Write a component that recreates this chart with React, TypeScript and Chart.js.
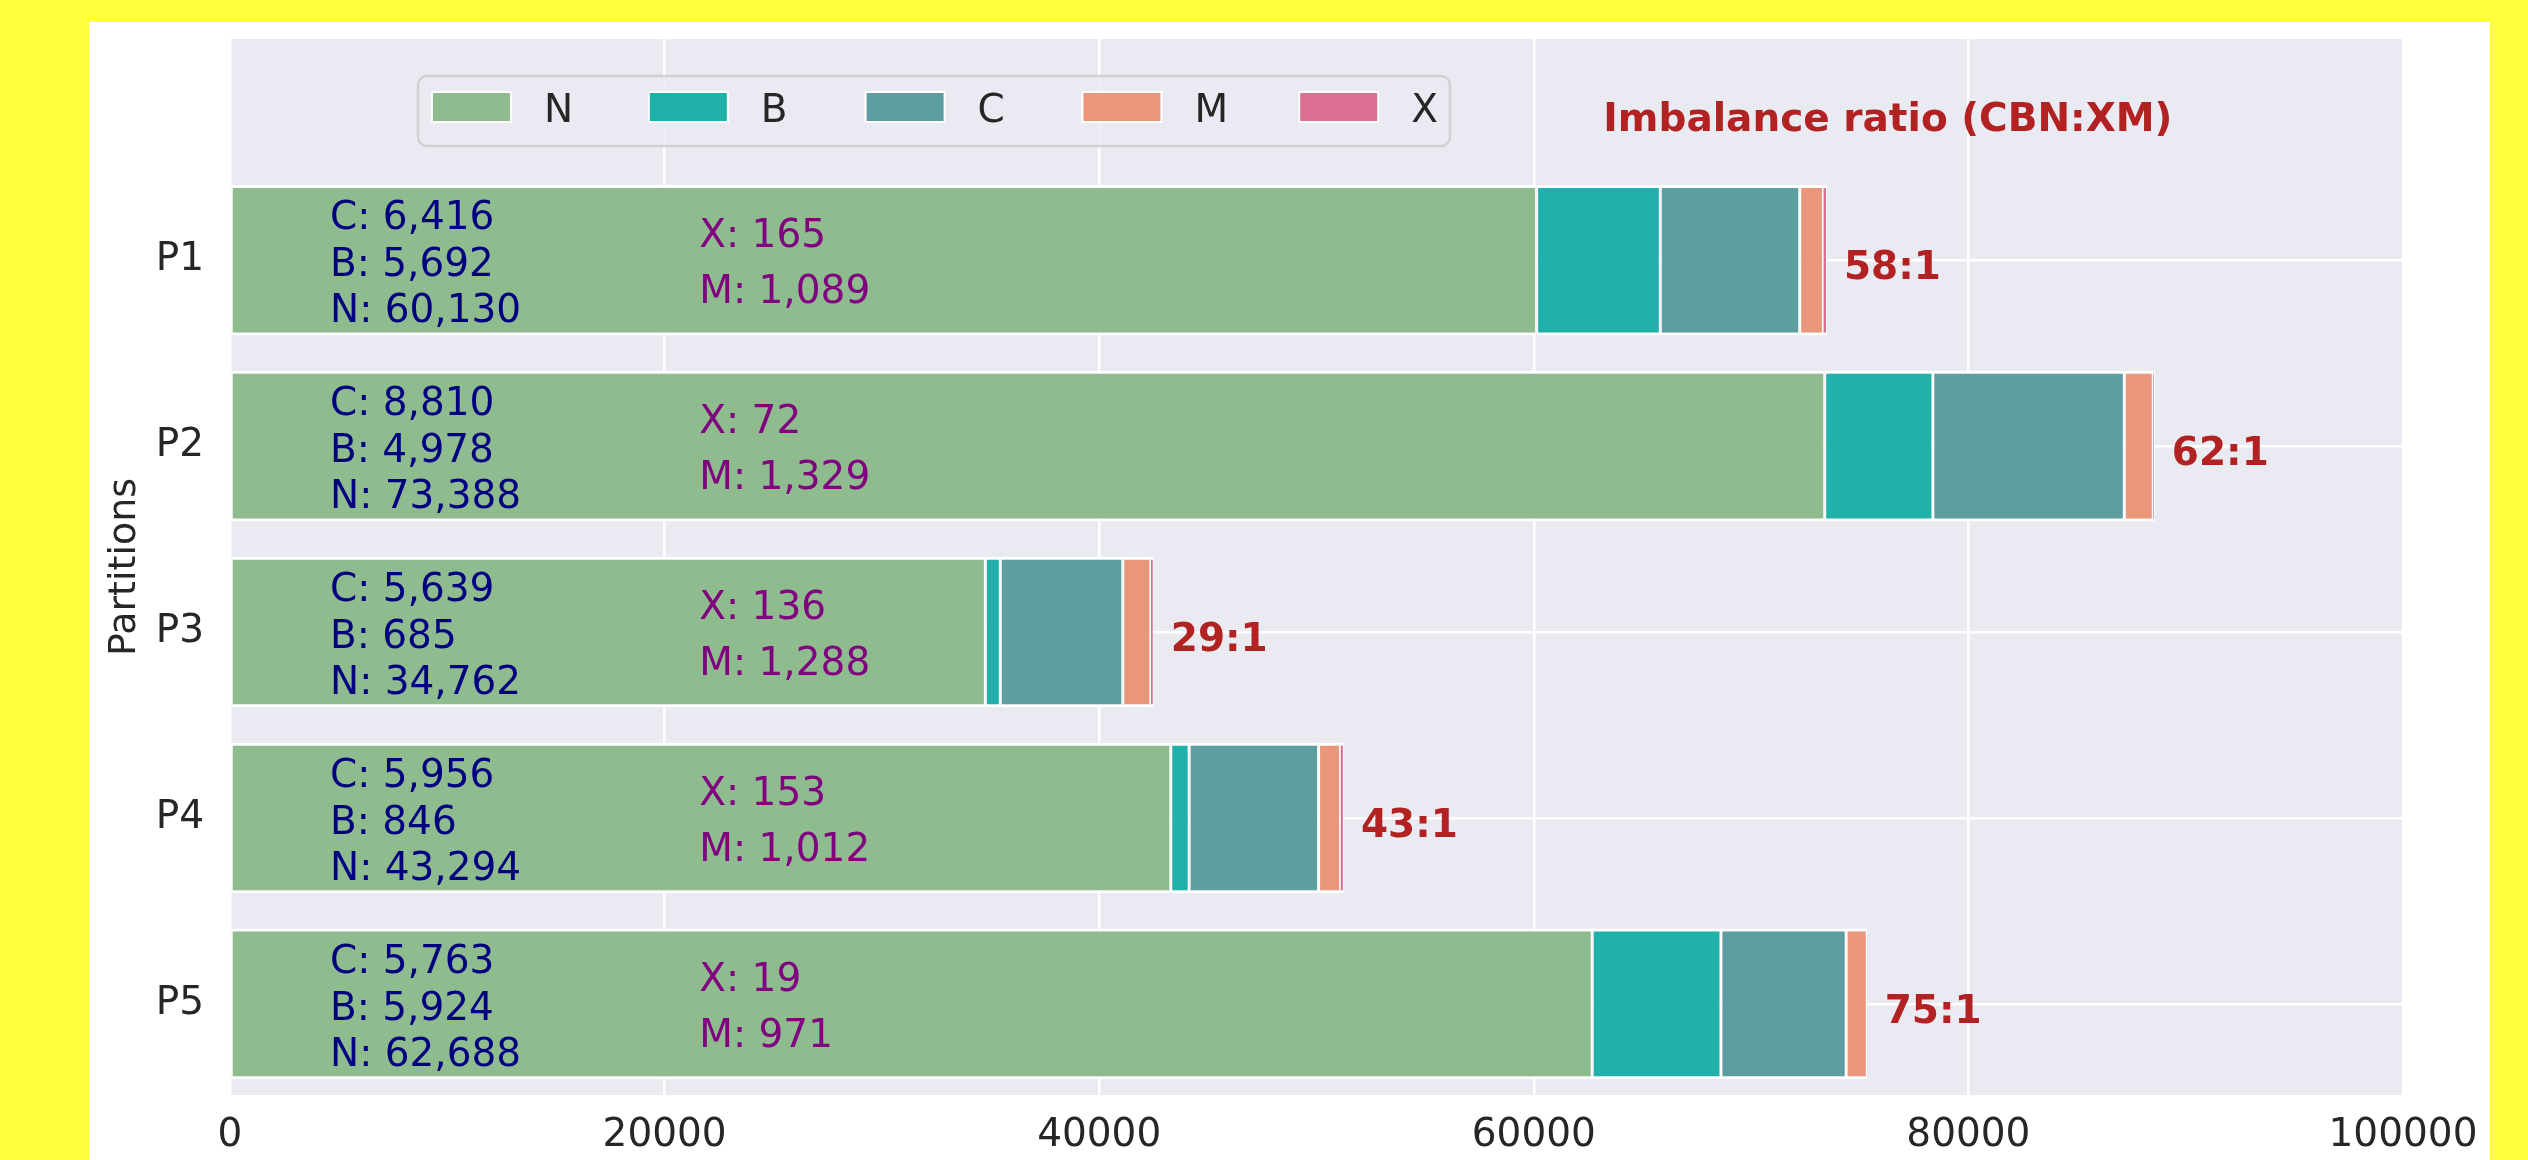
import React, { useEffect, useRef } from "react";
import { Chart, registerables } from "chart.js";
Chart.register(...registerables);

// ---- data ----
const categories = ["P1", "P2", "P3", "P4", "P5"];
const seriesNames = ["N", "B", "C", "M", "X"];
const seriesN = [60130, 73388, 34762, 43294, 62688];
const seriesB = [5692, 4978, 685, 846, 5924];
const seriesC = [6416, 8810, 5639, 5956, 5763];
const seriesM = [1089, 1329, 1288, 1012, 971];
const seriesX = [165, 72, 136, 153, 19];
const ratioLabels = ["58:1", "62:1", "29:1", "43:1", "75:1"];
const xTickValues = [0, 20000, 40000, 60000, 80000, 100000];
const titleText = "Imbalance ratio (CBN:XM)";
const yAxisTitle = "Partitions";

const seriesColors = ["#8FBC8F", "#20B2AA", "#5F9EA0", "#E9967A", "#DB7093"];
const FONT = "'DejaVu Sans', 'Liberation Sans', sans-serif";
const TEXT = "#262626";

const fmt = (n: number) => n.toLocaleString("en-US");

const overlay = {
  id: "overlay",
  beforeDraw(chart: any) {
    const { ctx, chartArea: a } = chart;
    ctx.save();
    ctx.fillStyle = "#EAEAF2";
    ctx.fillRect(a.left, a.top, a.right - a.left, a.bottom - a.top);
    ctx.restore();
  },
  afterDatasetsDraw(chart: any) {
    const { ctx } = chart;
    const xs = chart.scales.x;
    const ys = chart.scales.y;
    const ds = chart.data.datasets;
    ctx.save();
    ctx.textBaseline = "alphabetic";
    const cap39 = 0.3645 * 39;
    categories.forEach((_, i) => {
      const cy = ys.getPixelForValue(i);
      // navy counts
      ctx.font = `39px ${FONT}`;
      ctx.fillStyle = "#000080";
      ctx.textAlign = "left";
      const nx = xs.getPixelForValue(4600);
      const navy: [string, number][] = [
        [`C: ${fmt(seriesC[i])}`, -45],
        [`B: ${fmt(seriesB[i])}`, 1.5],
        [`N: ${fmt(seriesN[i])}`, 48],
      ];
      navy.forEach(([t, dy]) => ctx.fillText(t, nx, cy + dy + cap39));
      // purple counts
      ctx.fillStyle = "#800080";
      const px = xs.getPixelForValue(21600);
      ctx.fillText(`X: ${fmt(seriesX[i])}`, px, cy - 27 + cap39);
      ctx.fillText(`M: ${fmt(seriesM[i])}`, px, cy + 29 + cap39);
      // ratio
      let total = 0;
      ds.forEach((d: any) => (total += d.data[i].x));
      ctx.font = `bold 39px ${FONT}`;
      ctx.fillStyle = "#B22222";
      ctx.fillText(ratioLabels[i], xs.getPixelForValue(total) + 17, cy + 5 + cap39);
    });
    // title annotation
    ctx.font = `bold 39px ${FONT}`;
    ctx.fillStyle = "#B22222";
    ctx.textAlign = "left";
    ctx.fillText(titleText, xs.getPixelForValue(63200), ys.getPixelForValue(-0.77) + cap39);

    // legend box
    const lx = 329, ly = 54, lw = 1032, lh = 70, r = 9;
    ctx.beginPath();
    ctx.moveTo(lx + r, ly);
    ctx.arcTo(lx + lw, ly, lx + lw, ly + lh, r);
    ctx.arcTo(lx + lw, ly + lh, lx, ly + lh, r);
    ctx.arcTo(lx, ly + lh, lx, ly, r);
    ctx.arcTo(lx, ly, lx + lw, ly, r);
    ctx.closePath();
    ctx.fillStyle = "rgba(234,234,242,0.8)";
    ctx.fill();
    ctx.lineWidth = 2.5;
    ctx.strokeStyle = "rgba(204,204,204,0.85)";
    ctx.stroke();
    ds.forEach((d: any, k: number) => {
      const sx = 344 + k * 216.8;
      ctx.fillStyle = "#FFFFFF";
      ctx.fillRect(sx - 2, 69, 81, 32);
      ctx.fillStyle = d.backgroundColor;
      ctx.fillRect(sx, 71, 77, 28);
      ctx.font = `39px ${FONT}`;
      ctx.fillStyle = TEXT;
      ctx.textAlign = "left";
      ctx.fillText(d.label, sx + 111, 86 + cap39);
    });
    ctx.restore();
  },
};

export default function App() {
  const ref = useRef<HTMLCanvasElement | null>(null);
  useEffect(() => {
    if (!ref.current) return;
    const all = [seriesN, seriesB, seriesC, seriesM, seriesX];
    const chart = new Chart(ref.current, {
      type: "bar",
      data: {
        labels: categories.map((_, i) => i),
        datasets: all.map((arr, k) => ({
          label: seriesNames[k],
          data: arr.map((v, i) => ({ x: v, y: i })),
          backgroundColor: seriesColors[k],
          borderColor: "#FFFFFF",
          borderWidth:
            k === all.length - 1
              ? { left: 0, right: 1, top: 3, bottom: 3 }
              : { left: 1.5, right: 1.5, top: 3, bottom: 3 },
          borderSkipped: false,
          barPercentage: 0.81,
          categoryPercentage: 1,
        })),
      },
      options: {
        indexAxis: "y",
        responsive: false,
        animation: false,
        devicePixelRatio: 1,
        layout: { padding: { left: 0, top: 17, right: 87, bottom: 0 } },
        plugins: { legend: { display: false }, tooltip: { enabled: false } },
        scales: {
          x: {
            type: "linear",
            stacked: true,
            min: 0,
            max: 100000,
            afterBuildTicks: (axis: any) => {
              axis.ticks = xTickValues.map((v) => ({ value: v }));
            },
            afterFit: (s: any) => {
              s.height = 65;
              s.paddingLeft = 0;
              s.paddingRight = 0;
              s.paddingTop = 0;
              s.paddingBottom = 0;
            },
            ticks: {
              font: { family: FONT, size: 39 },
              color: TEXT,
              padding: 17,
              maxRotation: 0,
              callback: (v: any) => String(v),
            },
            grid: { color: "#FFFFFF", lineWidth: 2.5, drawTicks: false },
            border: { display: false },
          },
          y: {
            type: "linear",
            stacked: true,
            reverse: true,
            offset: false,
            min: -1.19,
            max: 4.49,
            afterBuildTicks: (axis: any) => {
              axis.ticks = categories.map((_, i) => ({ value: i }));
            },
            afterFit: (s: any) => {
              s.width = 141;
              s.paddingLeft = 0;
              s.paddingRight = 0;
              s.paddingTop = 0;
              s.paddingBottom = 0;
            },
            ticks: {
              font: { family: FONT, size: 39 },
              color: TEXT,
              padding: 26,
              callback: (v: any) => categories[v] ?? "",
            },
            title: {
              display: true,
              text: yAxisTitle,
              font: { family: FONT, size: 38 },
              color: TEXT,
              padding: { top: 13, bottom: 0 },
            },
            grid: { color: "#FFFFFF", lineWidth: 2.5, drawTicks: false, offset: false },
            border: { display: false },
          },
        },
      },
      plugins: [overlay],
    } as any);
    return () => chart.destroy();
  }, []);
  return (
    <div
      style={{
        position: "fixed",
        left: 0,
        top: 0,
        width: 2528,
        height: 1160,
        background: "#FFFF40",
        overflow: "hidden",
      }}
    >
      <div
        style={{
          position: "absolute",
          left: 89,
          top: 22,
          width: 2401,
          height: 1138,
          background: "#FFFFFF",
        }}
      >
        <canvas ref={ref} width={2401} height={1138} style={{ width: 2401, height: 1138, display: "block" }} />
      </div>
    </div>
  );
}
